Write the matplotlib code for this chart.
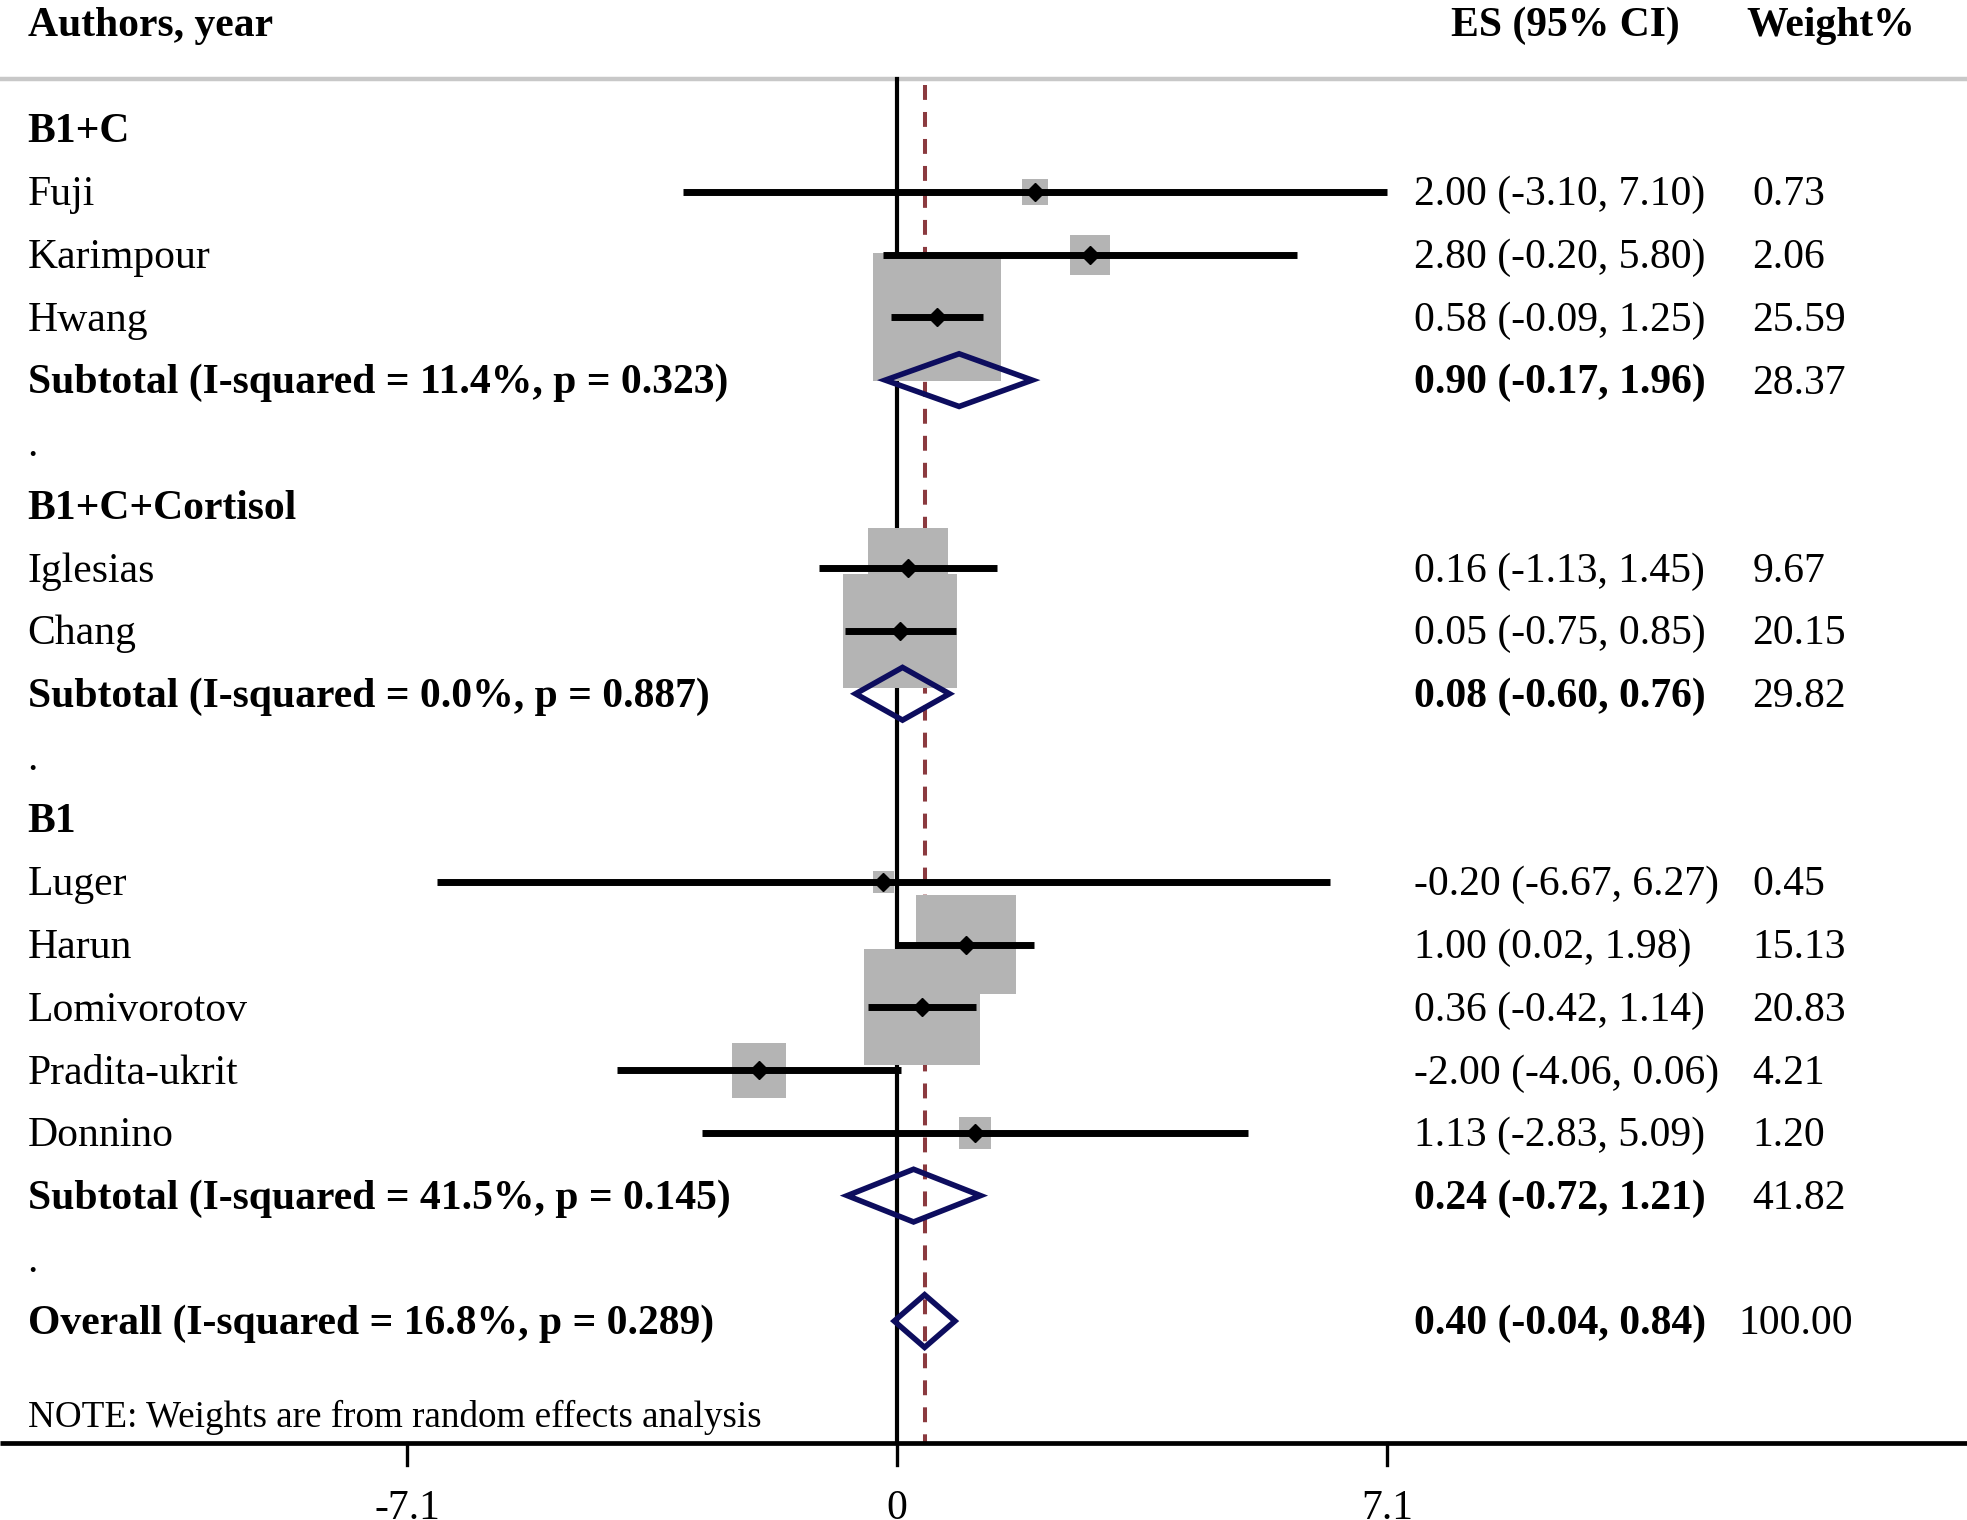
import matplotlib
matplotlib.use("Agg")
import matplotlib.pyplot as plt
from matplotlib.patches import Rectangle, Polygon
import numpy as np

# ---------------- data ----------------
group_names = ["B1+C", "B1+C+Cortisol", "B1"]
study_names = ["Fuji", "Karimpour", "Hwang", "Iglesias", "Chang",
               "Luger", "Harun", "Lomivorotov", "Pradita-ukrit", "Donnino"]
study_group = [0, 0, 0, 1, 1, 2, 2, 2, 2, 2]
study_es = [2.00, 2.80, 0.58, 0.16, 0.05, -0.20, 1.00, 0.36, -2.00, 1.13]
study_lo = [-3.10, -0.20, -0.09, -1.13, -0.75, -6.67, 0.02, -0.42, -4.06, -2.83]
study_hi = [7.10, 5.80, 1.25, 1.45, 0.85, 6.27, 1.98, 1.14, 0.06, 5.09]
study_w = [0.73, 2.06, 25.59, 9.67, 20.15, 0.45, 15.13, 20.83, 4.21, 1.20]

sub_labels = ["Subtotal (I-squared = 11.4%, p = 0.323)",
              "Subtotal (I-squared = 0.0%, p = 0.887)",
              "Subtotal (I-squared = 41.5%, p = 0.145)"]
sub_es = [0.90, 0.08, 0.24]
sub_lo = [-0.17, -0.60, -0.72]
sub_hi = [1.96, 0.76, 1.21]
sub_w = [28.37, 29.82, 41.82]

overall_label = "Overall (I-squared = 16.8%, p = 0.289)"
overall_es = 0.40
overall_lo = -0.04
overall_hi = 0.84
overall_w = 100.00

tick_vals = [-7.1, 0, 7.1]
tick_labels = ["-7.1", "0", "7.1"]
note = "NOTE: Weights are from random effects analysis"

# ---------------- layout ----------------
W, H = 1967, 1520
fig = plt.figure(figsize=(W / 100, H / 100), dpi=100)
ax = fig.add_axes([0, 0, 1, 1])
ax.axis("off")

px_per_unit = 69.0          # pixels per effect-size unit
x0_px = 897.0               # pixel position of zero
row0_px = 129.2             # pixel position of first row
row_px = 62.73              # pixels per row
ax.set_xlim(-x0_px / px_per_unit, (W - x0_px) / px_per_unit)
ax.set_ylim((H - row0_px) / row_px, -row0_px / row_px)

FONT = "Liberation Serif"
FS = 30
DY = 0.05
x_label = (27.6 - x0_px) / px_per_unit
x_es = (1413.8 - x0_px) / px_per_unit
x_w = (1752.5 - x0_px) / px_per_unit

box_col = "#b4b4b4"
dia_col = "#0d0d5e"
ref_col = "#8b3a3f"

def txt(x, y, s, bold=False, ha="left", fs=FS):
    ax.text(x, y + DY, s, fontsize=fs, family=FONT, ha=ha, va="center",
            fontweight="bold" if bold else "normal", color="black")

def fmt_ci(e, l, h):
    return f"{e:.2f} ({l:.2f}, {h:.2f})"

def diamond(e, l, h, y):
    hh = 0.42
    poly = Polygon([[l, y], [e, y - hh], [h, y], [e, y + hh]], closed=True,
                   fill=False, edgecolor=dia_col, linewidth=4.0, joinstyle="miter",
                   zorder=5)
    ax.add_patch(poly)

# header
y_header = -1.7
txt(x_label, y_header, "Authors, year", bold=True)
txt((1451 - x0_px) / px_per_unit, y_header, "ES (95% CI)", bold=True)
txt((1746 - x0_px) / px_per_unit, y_header, "Weight%", bold=True)

# rows
row = 0
for g, gname in enumerate(group_names):
    txt(x_label, row, gname, bold=True)
    row += 1
    for i, grp in enumerate(study_group):
        if grp != g:
            continue
        side_px = 24.3 * np.sqrt(study_w[i]) + 5
        bw = side_px / px_per_unit
        bh = side_px / row_px
        ax.add_patch(Rectangle((study_es[i] - bw / 2, row - bh / 2), bw, bh,
                               facecolor=box_col, edgecolor="none", zorder=2))
        ax.plot([study_lo[i], study_hi[i]], [row, row], color="black",
                linewidth=5.0, solid_capstyle="butt", zorder=3)
        ax.plot([study_es[i]], [row], marker="D", markersize=9.5,
                color="black", zorder=4)
        txt(x_label, row, study_names[i])
        txt(x_es, row, fmt_ci(study_es[i], study_lo[i], study_hi[i]))
        txt(x_w, row, f"{study_w[i]:.2f}")
        row += 1
    diamond(sub_es[g], sub_lo[g], sub_hi[g], row)
    txt(x_label, row, sub_labels[g], bold=True)
    txt(x_es, row, fmt_ci(sub_es[g], sub_lo[g], sub_hi[g]), bold=True)
    txt(x_w, row, f"{sub_w[g]:.2f}")
    row += 1
    txt(x_label, row, ".")
    row += 1
diamond(overall_es, overall_lo, overall_hi, row)
txt(x_label, row, overall_label, bold=True)
txt(x_es, row, fmt_ci(overall_es, overall_lo, overall_hi), bold=True)
txt((1738 - x0_px) / px_per_unit, row, f"{overall_w:.2f}")

y_note = 20.48
txt(x_label, y_note, note, fs=26.7)

# lines
y_top = -0.8
y_axis = 20.94
xmin, xmax = ax.get_xlim()
ax.plot([xmin, xmax], [y_top, y_top], color="#c8c8c8", linewidth=3.2, zorder=1)
ax.plot([0, 0], [y_top, y_axis], color="black", linewidth=3.0, zorder=1)
ax.plot([overall_es, overall_es], [y_top + 0.1, y_axis], color=ref_col,
        linewidth=2.9, dashes=(3.7, 3.0), zorder=1)
ax.plot([xmin, xmax], [y_axis, y_axis], color="black", linewidth=3.4, zorder=6,
        solid_capstyle="butt")
for tv, tl in zip(tick_vals, tick_labels):
    ax.plot([tv, tv], [y_axis, y_axis + 0.36], color="black", linewidth=2.4)
    txt(tv, 21.94, tl, ha="center")

fig.savefig("out.png", dpi=100)
